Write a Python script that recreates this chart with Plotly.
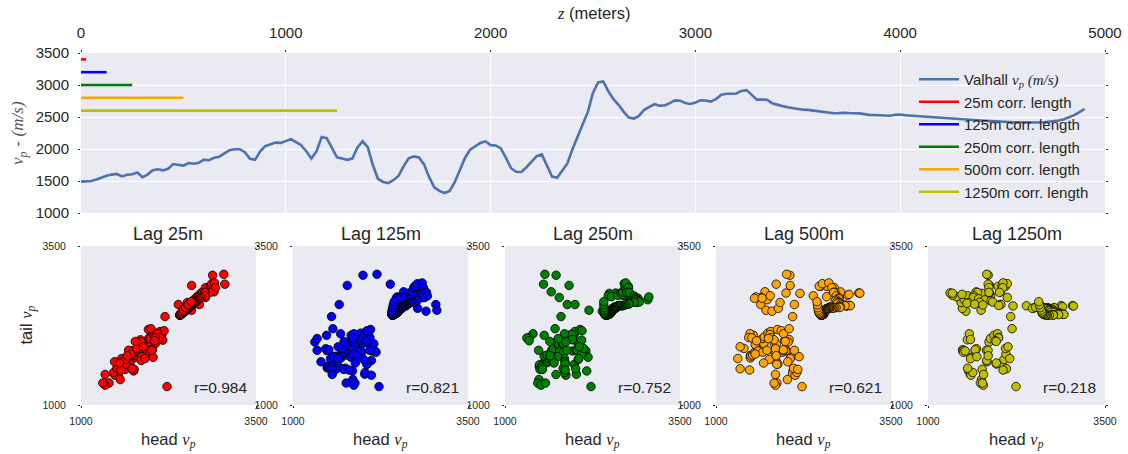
import plotly.graph_objects as go

# Valhall P-wave velocity log, sampled every 25 m from 0 to 4900 m depth
sample_step_m = 25
vp_log = [
    1490, 1492, 1500, 1525, 1555, 1583, 1600, 1610, 1572, 1598,
    1606, 1632, 1560, 1600, 1668, 1684, 1666, 1690, 1765, 1755,
    1740, 1781, 1770, 1785, 1833, 1825, 1862, 1880, 1932, 1982,
    1995, 1997, 1950, 1848, 1830, 1965, 2045, 2072, 2100, 2095,
    2130, 2155, 2108, 2060, 1965, 1850, 1963, 2187, 2168, 2020,
    1870, 1850, 1830, 1850, 2025, 2120, 2030, 1750, 1535, 1485,
    1468, 1512, 1578, 1728, 1855, 1885, 1868, 1760, 1560, 1400,
    1345, 1312, 1345, 1480, 1680, 1860, 1990, 2045, 2095, 2120,
    2060, 2055, 2010, 1860, 1700, 1645, 1640, 1715, 1800, 1890,
    1915, 1730, 1570, 1550, 1660, 1775, 2000, 2200, 2390, 2580,
    2880, 3040, 3055, 2900, 2780, 2690, 2580, 2490, 2475, 2520,
    2612, 2655, 2700, 2677, 2680, 2718, 2760, 2755, 2718, 2703,
    2725, 2762, 2758, 2740, 2778, 2845, 2864, 2864, 2868, 2908,
    2920, 2845, 2771, 2771, 2770, 2715, 2688, 2670, 2653, 2637,
    2620, 2614, 2611, 2600, 2585, 2573, 2564, 2558, 2560, 2567,
    2562, 2562, 2556, 2545, 2532, 2531, 2528, 2524, 2520, 2536,
    2540, 2527, 2522, 2518, 2514, 2510, 2505, 2500, 2493, 2490,
    2484, 2476, 2467, 2462, 2455, 2449, 2443, 2437, 2432, 2428,
    2424, 2421, 2419, 2417, 2414, 2412, 2411, 2414, 2417, 2425,
    2433, 2445, 2465, 2493, 2530, 2575, 2625,
]
depth_m = [i * sample_step_m for i in range(len(vp_log))]

# correlation lengths / lags and the level each reference bar is drawn at
corr_lengths_m = [25, 125, 250, 500, 1250]
bar_levels = [3400, 3200, 3000, 2800, 2600]
corr_r = [0.984, 0.821, 0.752, 0.621, 0.218]
lag_colors = ["#FF0000", "#0000FF", "#008000", "#FFA500", "#BFBF00"]

top_x_ticks = [0, 1000, 2000, 3000, 4000, 5000]
top_y_ticks = [1000, 1500, 2000, 2500, 3000, 3500]
lag_axis_ticks = [1000, 3500]

W, H = 1128, 454
BG = "#EAEAF2"
TXT = "#262626"
SANS = "Liberation Sans, Arial, sans-serif"
MATH = "font-family:'Liberation Serif',serif;font-style:italic"


def math(s):
    return f"<span style=\"{MATH}\">{s}</span>"


def px_x(p):
    return p / W


def px_y(p):
    return 1 - p / H


fig = go.Figure()

# ---- top panel: velocity log and correlation-length bars ----
fig.add_trace(go.Scatter(
    x=depth_m, y=vp_log, mode="lines",
    line=dict(color="#4C72B0", width=2.6),
    name="Valhall " + math("v<sub>p</sub> (m/s)"),
    xaxis="x", yaxis="y", legend="legend",
))
for L, lvl, c in zip(corr_lengths_m, bar_levels, lag_colors):
    fig.add_trace(go.Scatter(
        x=[0, L], y=[lvl, lvl], mode="lines",
        line=dict(color=c, width=2.6),
        name=f"{L}m corr. length",
        xaxis="x", yaxis="y", legend="legend",
    ))

# ---- lower panels: lag (head/tail) scatter plots ----
panel_px = [(81, 256), (293, 468), (505, 680), (716, 891), (928, 1105)]
low_top, low_bot = 246, 405

layout_axes = {}
legends = {}
annotations = []
for i, (L, r, c) in enumerate(zip(corr_lengths_m, corr_r, lag_colors)):
    k = L // sample_step_m
    head = vp_log[:-k]
    tail = vp_log[k:]
    ax = i + 2
    leg = f"legend{ax}"
    fig.add_trace(go.Scatter(
        x=head, y=tail, mode="markers",
        marker=dict(color=c, size=8.5, line=dict(color="#000000", width=0.8)),
        name=f"r={r:.3f}",
        xaxis=f"x{ax}", yaxis=f"y{ax}", legend=leg,
    ))
    x0, x1 = panel_px[i]
    layout_axes[f"xaxis{ax}"] = dict(
        domain=[px_x(x0), px_x(x1)], anchor=f"y{ax}", range=[1000, 3500],
        tickvals=lag_axis_ticks, showgrid=False, zeroline=False, automargin=False,
        ticks="outside", ticklen=2, tickcolor=TXT, ticklabelstandoff=4,
        tickfont=dict(size=10.5, color=TXT, family=SANS),
    )
    layout_axes[f"yaxis{ax}"] = dict(
        domain=[px_y(low_bot), px_y(low_top)], anchor=f"x{ax}", range=[1000, 3500],
        tickvals=lag_axis_ticks, showgrid=False, zeroline=False, automargin=False,
        ticks="outside", ticklen=2, tickcolor=TXT, mirror="ticks",
        ticklabelstandoff=10,
        tickfont=dict(size=10.5, color=TXT, family=SANS),
    )
    legends[leg] = dict(
        x=px_x(x1 - 116), y=px_y(370), xanchor="left", yanchor="top",
        bgcolor="rgba(0,0,0,0)", font=dict(size=15.5, color=TXT, family=SANS),
        itemwidth=44,
    )
    annotations.append(dict(
        text=f"Lag {L}m", x=px_x((x0 + x1) / 2), y=px_y(234),
        xref="paper", yref="paper", showarrow=False,
        xanchor="center", yanchor="middle",
        font=dict(size=18, color=TXT, family=SANS),
    ))
    annotations.append(dict(
        text="head " + math("v<sub>p</sub>"), x=px_x((x0 + x1) / 2), y=px_y(428),
        xref="paper", yref="paper", showarrow=False,
        xanchor="center", yanchor="top",
        font=dict(size=16.5, color=TXT, family=SANS),
    ))

annotations.append(dict(
    text="tail " + math("v<sub>p</sub>"), x=px_x(14), y=px_y(325),
    xref="paper", yref="paper", showarrow=False, textangle=-90,
    xanchor="left", yanchor="middle",
    font=dict(size=16.5, color=TXT, family=SANS),
))
annotations.append(dict(
    text=math("z") + " (meters)", x=px_x(593), y=px_y(2),
    xref="paper", yref="paper", showarrow=False,
    xanchor="center", yanchor="top",
    font=dict(size=16.5, color=TXT, family=SANS),
))
annotations.append(dict(
    text=math("v<sub>p</sub>") + "&nbsp;-&nbsp;" + math("(m/s)"), x=px_x(6), y=px_y(133),
    xref="paper", yref="paper", showarrow=False, textangle=-90,
    xanchor="left", yanchor="middle",
    font=dict(size=17, color="#555555", family=SANS),
))

fig.update_layout(
    width=W, height=H,
    margin=dict(l=0, r=0, t=0, b=0, autoexpand=False),
    paper_bgcolor="white", plot_bgcolor=BG,
    font=dict(family=SANS, color=TXT),
    xaxis=dict(
        domain=[px_x(81), px_x(1105)], anchor="y", side="top", range=[0, 5000],
        tickvals=top_x_ticks, showgrid=True, gridcolor="white", gridwidth=1.4,
        zeroline=False, automargin=False, ticks="outside", ticklen=2, tickcolor=TXT,
        ticklabelstandoff=6,
        tickfont=dict(size=15, color=TXT, family=SANS),
    ),
    yaxis=dict(
        domain=[px_y(213), px_y(53)], anchor="x", range=[1000, 3500],
        tickvals=top_y_ticks, showgrid=True, gridcolor="white", gridwidth=1.4,
        zeroline=False, automargin=False, ticks="outside", ticklen=2, tickcolor=TXT,
        mirror="ticks", ticklabelstandoff=6,
        tickfont=dict(size=15, color=TXT, family=SANS),
    ),
    legend=dict(
        x=px_x(914), y=px_y(63), xanchor="left", yanchor="top",
        bgcolor="rgba(0,0,0,0)", font=dict(size=15, color=TXT, family=SANS),
        itemwidth=40, tracegroupgap=0,
    ),
    annotations=annotations,
    showlegend=True,
    **layout_axes,
    **legends,
)

fig.write_html("out.html")
